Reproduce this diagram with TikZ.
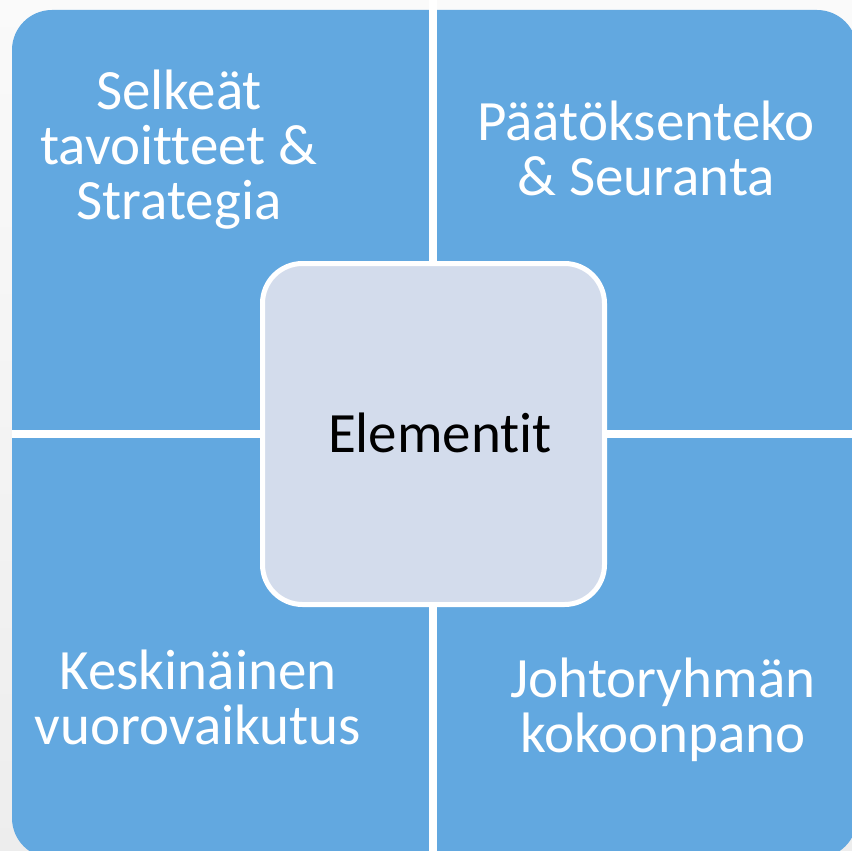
\documentclass[tikz,border=0pt]{standalone}
\usepackage{fontspec}
\setmainfont{Carlito}[Ligatures=NoCommon]
\usepackage{xcolor}
\definecolor{ruutu}{RGB}{98,168,224}
\definecolor{keski}{RGB}{211,220,236}

\begin{document}
\begin{tikzpicture}[x=1pt, y=-1pt,
  every node/.style={font=\fontsize{57}{55}\selectfont},
  alue/.style={text=white, align=center},
  keskiboksi/.style={fill=keski, draw=white, line width=5pt, rounded corners=40pt,
    minimum width=342pt, minimum height=341pt}]

% tausta
\shade[top color=gray!4, bottom color=gray!14] (0,0) rectangle (852,851);
\useasboundingbox (0,0) rectangle (852,851);

% neljä ruutua
\fill[ruutu, rounded corners=40pt] (12,10) rectangle (857,858);
\draw[white, line width=8pt] (433,0) -- (433,858);
\draw[white, line width=8pt] (12,434) -- (857,434);

% keskellä
\node[keskiboksi] (keskus) at (433.5,434) {};
\node (elementit) at (440,433) {Elementit};

% tekstit
\node[alue] (strategia) at (179,150) {Selkeät\\tavoitteet \&\\Strategia};
\node[alue] (seuranta) at (646,148) {Päätöksenteko\\\& Seuranta};
\node[alue] (vuoro) at (198,697) {Keskinäinen\\vuorovaikutus};
\node[alue] (kokoonpano) at (663,710) {Johtoryhmän\\kokoonpano};

\end{tikzpicture}
\end{document}
